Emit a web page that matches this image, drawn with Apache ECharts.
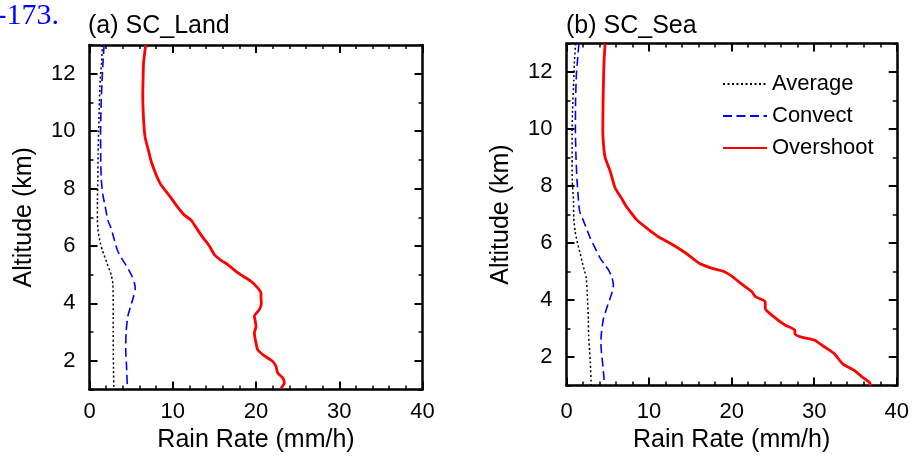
<!DOCTYPE html>
<html><head><meta charset="utf-8">
<script src="https://cdn.jsdelivr.net/npm/echarts@6/dist/echarts.min.js"></script>
<style>html,body{margin:0;padding:0;background:#fff}#c{width:912px;height:459px}</style>
</head><body><div id="c"></div>
<script>
// ---- data ----
const panelTitles = ['(a) SC_Land', '(b) SC_Sea'];
const seriesNames = ['Average', 'Convect', 'Overshoot'];
const yMajorTicks = [2, 4, 6, 8, 10, 12];
const xRange = [0, 40];
const yRange = [1, 13];

// [rain rate (mm/h), altitude (km)]
const landAverage = [[1.55,13.0],[1.45,12.4],[1.3,11.8],[1.18,11.0],[1.1,10.0],[1.03,9.2],[1.0,8.3],[0.95,7.6],[0.95,6.9],[1.05,6.5],[1.3,6.1],[1.55,5.85],[2.1,5.4],[2.6,5.0],[2.8,4.7],[2.85,4.2],[2.85,3.5],[2.85,3.0],[2.85,2.4],[2.88,1.8],[2.93,1.0]];
const landConvect = [[1.75,13.0],[1.6,12.3],[1.5,11.7],[1.4,11.0],[1.33,10.0],[1.35,9.0],[1.42,8.3],[1.6,7.8],[1.9,7.35],[2.2,6.9],[2.55,6.65],[3.0,6.2],[3.35,5.85],[3.9,5.55],[4.55,5.25],[5.1,4.95],[5.4,4.7],[5.5,4.5],[5.3,4.25],[5.0,3.95],[4.6,3.55],[4.4,3.0],[4.35,2.4],[4.45,1.8],[4.55,1.0]];
const landOvershoot = [[6.75,13.0],[6.5,12.4],[6.45,12.0],[6.4,11.2],[6.5,10.4],[6.67,9.8],[7.07,9.34],[7.48,8.88],[8.48,8.18],[9.68,7.72],[10.6,7.35],[11.3,7.1],[12.2,6.9],[12.9,6.6],[13.6,6.3],[14.4,6.0],[15.0,5.7],[15.8,5.5],[16.6,5.35],[17.8,5.07],[18.7,4.9],[19.4,4.77],[20.2,4.54],[20.6,4.36],[20.6,4.15],[20.65,4.01],[20.4,3.78],[19.8,3.55],[19.9,3.4],[20.0,3.2],[19.8,2.95],[19.85,2.85],[20.0,2.62],[20.2,2.39],[20.8,2.22],[21.5,2.08],[22.0,1.98],[22.4,1.81],[22.6,1.58],[23.2,1.41],[23.4,1.23],[23.0,1.05]];
const seaAverage = [[1.1,13.0],[0.95,12.3],[0.88,11.7],[0.75,10.8],[0.68,9.94],[0.68,9.0],[0.7,8.18],[0.85,7.47],[0.88,6.88],[1.05,6.4],[1.28,6.06],[1.6,5.7],[1.88,5.35],[2.2,5.0],[2.4,4.76],[2.5,4.3],[2.56,3.94],[2.65,3.3],[2.68,2.76],[2.8,2.2],[2.88,1.82],[3.0,1.0]];
const seaConvect = [[1.5,13.0],[1.3,12.3],[1.2,11.94],[1.1,11.0],[1.08,9.94],[1.15,9.0],[1.28,8.18],[1.45,7.5],[1.6,7.1],[2.08,6.76],[2.88,6.17],[3.5,5.8],[4.08,5.47],[4.6,5.25],[5.08,5.06],[5.5,4.8],[5.68,4.53],[5.5,4.25],[5.28,4.06],[4.8,3.65],[4.48,3.35],[4.25,2.9],[4.16,2.53],[4.25,2.1],[4.36,1.82],[4.5,1.4],[4.6,1.0]];
const seaOvershoot = [[4.68,13.0],[4.55,12.4],[4.48,11.7],[4.42,10.8],[4.4,9.94],[4.5,9.4],[4.68,9.0],[5.28,8.53],[5.88,7.94],[6.6,7.6],[7.2,7.3],[7.67,7.12],[8.48,6.82],[9.68,6.53],[11.07,6.23],[12.87,5.94],[14.47,5.64],[16.07,5.29],[17.66,5.11],[19.06,5.0],[20.06,4.83],[21.07,4.59],[22.46,4.29],[22.87,4.12],[24.07,3.94],[24.07,3.70],[24.86,3.47],[26.47,3.12],[27.66,2.94],[27.66,2.82],[28.46,2.70],[30.06,2.59],[31.26,2.35],[32.46,2.11],[33.45,1.76],[34.86,1.53],[35.85,1.29],[36.65,1.12],[36.85,1.0]];

// ---- chart ----
const FONT = 'Liberation Sans';
const chart = echarts.init(document.getElementById('c'), null, {renderer: 'canvas'});

const grids = [
  {left: 89.5, top: 45, width: 333, height: 344.5},
  {left: 566.5, top: 43.5, width: 334, height: 342}
];
const lineAxis = {show: true, lineStyle: {color: '#000', width: 2.5}};

const xAxis = [];
const yAxis = [];
[0, 1].forEach(g => {
  const labelMargin = g === 0 ? 11.5 : 15.5;
  const nameGap = g === 0 ? 34 : 35.5;
  ['bottom', 'top'].forEach(pos => {
    xAxis.push({
      type: 'value', gridIndex: g, position: pos,
      min: xRange[0], max: xRange[1], interval: 10,
      axisLine: lineAxis,
      axisTick: {show: true, inside: true, length: 8, lineStyle: {color: '#000', width: 2}},
      minorTick: {show: true, splitNumber: 5, length: 4, lineStyle: {color: '#000', width: 1.5}},
      axisLabel: {show: pos === 'bottom', color: '#000', fontSize: 22, fontFamily: FONT, margin: labelMargin},
      splitLine: {show: false}, minorSplitLine: {show: false},
      name: pos === 'bottom' ? 'Rain Rate (mm/h)' : '',
      nameLocation: 'middle', nameGap: nameGap,
      nameTextStyle: {color: '#000', fontSize: 25, fontFamily: FONT}
    });
  });
  ['left', 'right'].forEach(pos => {
    // minor ticks (every 1 km)
    yAxis.push({
      type: 'value', gridIndex: g, position: pos,
      min: yRange[0], max: yRange[1], interval: 1,
      axisLine: lineAxis,
      axisTick: {show: true, inside: true, length: 4, lineStyle: {color: '#000', width: 1.5}},
      axisLabel: {show: false},
      splitLine: {show: false},
      name: pos === 'left' ? 'Altitude (km)' : '',
      nameLocation: 'middle', nameGap: 53, nameRotate: 90,
      nameTextStyle: {color: '#000', fontSize: 25, fontFamily: FONT}
    });
    // major ticks + labels
    yAxis.push({
      type: 'value', gridIndex: g, position: pos,
      min: yRange[0], max: yRange[1], interval: 1,
      axisLine: {show: false},
      axisTick: {show: true, inside: true, length: 8, customValues: yMajorTicks, lineStyle: {color: '#000', width: 2}},
      axisLabel: {show: pos === 'left', customValues: yMajorTicks, color: '#000', fontSize: 22, fontFamily: FONT, margin: 14},
      splitLine: {show: false}
    });
  });
});

const styles = {
  Average: {color: '#000', width: 1.5, type: [2, 2.5]},
  Convect: {color: '#0000ff', width: 1.6, type: [9, 4.5]},
  Overshoot: {color: '#ff0000', width: 2.8, type: 'solid'}
};
const panelData = [[landAverage, landConvect, landOvershoot], [seaAverage, seaConvect, seaOvershoot]];
const series = [];
panelData.forEach((sets, g) => {
  sets.forEach((d, i) => {
    const nm = seriesNames[i];
    series.push({
      type: 'line', name: nm, data: d,
      xAxisIndex: g * 2, yAxisIndex: g * 4,
      symbol: 'none', smooth: 0.2,
      lineStyle: styles[nm], itemStyle: {color: styles[nm].color},
      z: 3 + i
    });
  });
});

chart.setOption({
  animation: false,
  backgroundColor: '#fff',
  grid: grids,
  xAxis: xAxis,
  yAxis: yAxis,
  title: [
    {text: panelTitles[0], left: 88, top: 14, padding: 0, textStyle: {color: '#000', fontSize: 25, fontWeight: 'normal', fontFamily: FONT}},
    {text: panelTitles[1], left: 566, top: 14, padding: 0, textStyle: {color: '#000', fontSize: 25, fontWeight: 'normal', fontFamily: FONT}}
  ],
  legend: {
    orient: 'vertical', left: 722, top: 73, padding: 0,
    itemWidth: 44, itemHeight: 14, itemGap: 10,
    data: seriesNames,
    itemStyle: {opacity: 0},
    textStyle: {color: '#000', fontSize: 22, fontFamily: FONT, lineHeight: 22},
    selectedMode: false
  },
  graphic: [
    {type: 'text', right: 912 - 59, top: 1, style: {text: '-173.', fill: '#0000ff', font: '30px "Liberation Serif"'}}
  ],
  series: series
});
</script></body></html>
